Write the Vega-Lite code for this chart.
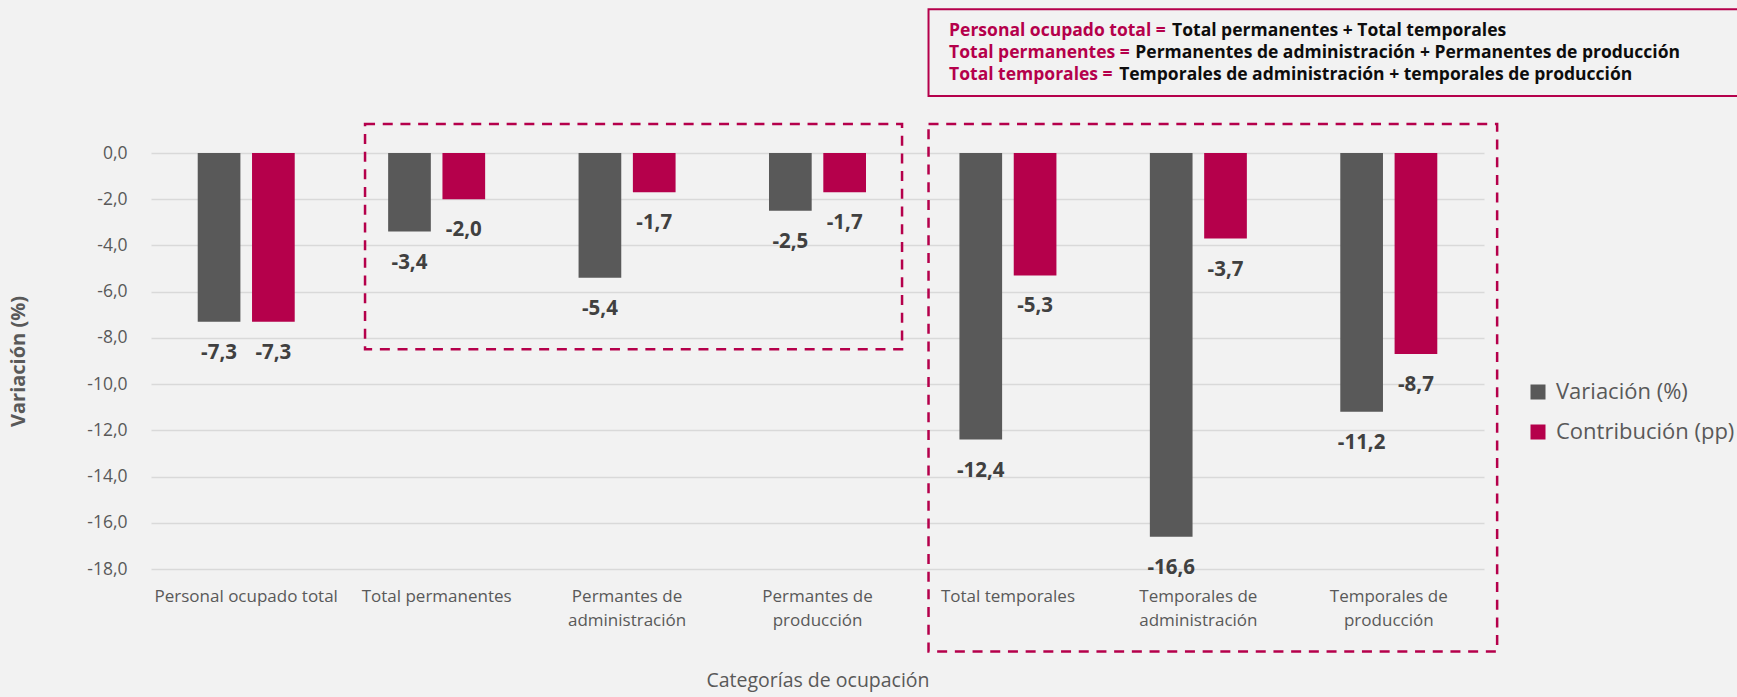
{
  "$schema": "https://vega.github.io/schema/vega-lite/v6.json",
  "width": 1333,
  "height": 416,
  "autosize": {"type": "none"},
  "padding": {"left": 151, "top": 153, "right": 253, "bottom": 128},
  "background": "#F2F2F2",
  "config": {
    "view": {"stroke": null},
    "font": "Open Sans",
    "locale": {"number": {"decimal": ",", "thousands": ".", "grouping": [3], "currency": ["", " €"], "minus": "-"}}
  },
  "datasets": {
    "barras": [
      {"categoria": "Personal ocupado total", "serie": "Variación (%)", "valor": -7.3},
      {"categoria": "Personal ocupado total", "serie": "Contribución (pp)", "valor": -7.3},
      {"categoria": "Total permanentes", "serie": "Variación (%)", "valor": -3.4},
      {"categoria": "Total permanentes", "serie": "Contribución (pp)", "valor": -2.0},
      {"categoria": "Permantes de administración", "serie": "Variación (%)", "valor": -5.4},
      {"categoria": "Permantes de administración", "serie": "Contribución (pp)", "valor": -1.7},
      {"categoria": "Permantes de producción", "serie": "Variación (%)", "valor": -2.5},
      {"categoria": "Permantes de producción", "serie": "Contribución (pp)", "valor": -1.7},
      {"categoria": "Total temporales", "serie": "Variación (%)", "valor": -12.4},
      {"categoria": "Total temporales", "serie": "Contribución (pp)", "valor": -5.3},
      {"categoria": "Temporales de administración", "serie": "Variación (%)", "valor": -16.6},
      {"categoria": "Temporales de administración", "serie": "Contribución (pp)", "valor": -3.7},
      {"categoria": "Temporales de producción", "serie": "Variación (%)", "valor": -11.2},
      {"categoria": "Temporales de producción", "serie": "Contribución (pp)", "valor": -8.7}
    ],
    "cajas": [
      {"grupo": "Permanentes", "desde": 1.124, "hasta": 3.944, "arriba": 1.254, "abajo": -8.49},
      {"grupo": "Temporales", "desde": 4.083, "hasta": 7.069, "arriba": 1.254, "abajo": -21.57}
    ],
    "marco": [
      {"desde": 4.083, "hasta": 8.345, "arriba": 6.215, "abajo": 2.465}
    ],
    "notas": [
      {"x_termino": 4.191, "x_resto": 5.362, "pos_y": 5.29, "termino": "Personal ocupado total =", "resto": "Total permanentes + Total temporales"},
      {"x_termino": 4.191, "x_resto": 5.169, "pos_y": 4.31, "termino": "Total permanentes =", "resto": "Permanentes de administración + Permanentes de producción"},
      {"x_termino": 4.191, "x_resto": 5.084, "pos_y": 3.37, "termino": "Total temporales =", "resto": "Temporales de administración + temporales de producción"}
    ]
  },
  "resolve": {"scale": {"x": "independent"}, "axis": {"x": "independent"}},
  "layer": [
    {
      "data": {"name": "barras"},
      "mark": {"type": "bar"},
      "encoding": {
        "x": {
          "field": "categoria", "type": "nominal", "sort": null,
          "scale": {"paddingInner": 0, "paddingOuter": 0},
          "axis": {
            "title": "Categorías de ocupación",
            "titleFontSize": 19.5, "titleFontWeight": "normal", "titleColor": "#595959", "titlePadding": 43,
            "labelFontSize": 17, "labelColor": "#595959", "labelAngle": 0, "labelPadding": 19,
            "labelBaseline": "top", "labelLineHeight": 24.5, "labelLimit": 300,
            "ticks": false, "domain": false, "grid": false,
            "labelExpr": "datum.label == 'Permantes de administración' ? ['Permantes de','administración'] : datum.label == 'Permantes de producción' ? ['Permantes de','producción'] : datum.label == 'Temporales de administración' ? ['Temporales de','administración'] : datum.label == 'Temporales de producción' ? ['Temporales de','producción'] : datum.label"
          }
        },
        "xOffset": {
          "field": "serie", "type": "nominal", "sort": ["Variación (%)", "Contribución (pp)"],
          "scale": {"paddingInner": 0.214, "paddingOuter": 0.86}
        },
        "y": {
          "field": "valor", "type": "quantitative", "title": "Variación (%)",
          "scale": {"domain": [-18, 0], "nice": false, "zero": false},
          "axis": {
            "values": [0, -2, -4, -6, -8, -10, -12, -14, -16, -18],
            "format": ".1f",
            "labelFontSize": 17.5, "labelColor": "#595959", "labelPadding": 24,
            "ticks": false, "domain": false,
            "gridColor": "#D9D9D9", "gridWidth": 1.5,
            "titleFontSize": 20, "titleFontWeight": "bold", "titleColor": "#595959", "titlePadding": 58
          }
        },
        "color": {
          "field": "serie", "type": "nominal",
          "scale": {"domain": ["Variación (%)", "Contribución (pp)"], "range": ["#595959", "#B5004B"]},
          "legend": {
            "title": null, "orient": "none", "legendX": 1376, "legendY": 228,
            "symbolType": "square", "symbolSize": 225, "symbolStrokeWidth": 0, "symbolOpacity": 1,
            "labelFontSize": 22, "labelColor": "#595959", "labelOffset": 7, "rowPadding": 18, "labelLimit": 300
          }
        }
      }
    },
    {
      "data": {"name": "barras"},
      "mark": {"type": "text", "baseline": "middle", "align": "center", "dy": 31, "fontSize": 20.5, "fontWeight": "bold", "color": "#404040"},
      "encoding": {
        "x": {"field": "categoria", "type": "nominal", "sort": null, "scale": {"paddingInner": 0, "paddingOuter": 0}, "axis": null},
        "xOffset": {"field": "serie", "type": "nominal", "sort": ["Variación (%)", "Contribución (pp)"], "scale": {"paddingInner": 0.214, "paddingOuter": 0.86}},
        "y": {"field": "valor", "type": "quantitative", "title": "Variación (%)"},
        "text": {"field": "valor", "type": "quantitative", "format": ".1f"}
      }
    },
    {
      "data": {"name": "cajas"},
      "mark": {"type": "rect", "fillOpacity": 0, "stroke": "#B5004B", "strokeWidth": 2.5, "strokeDash": [10, 7.7]},
      "encoding": {
        "x": {"field": "desde", "type": "quantitative", "scale": {"domain": [0, 7], "nice": false, "zero": false}, "axis": null},
        "x2": {"field": "hasta"},
        "y": {"field": "arriba", "type": "quantitative", "title": "Variación (%)"},
        "y2": {"field": "abajo"}
      }
    },
    {
      "data": {"name": "marco"},
      "mark": {"type": "rect", "fillOpacity": 0, "stroke": "#B5004B", "strokeWidth": 2},
      "encoding": {
        "x": {"field": "desde", "type": "quantitative", "scale": {"domain": [0, 7], "nice": false, "zero": false}, "axis": null},
        "x2": {"field": "hasta"},
        "y": {"field": "arriba", "type": "quantitative", "title": "Variación (%)"},
        "y2": {"field": "abajo"}
      }
    },
    {
      "data": {"name": "notas"},
      "mark": {"type": "text", "align": "left", "baseline": "middle", "fontSize": 17.5, "fontWeight": "bold", "color": "#0D0D0D"},
      "encoding": {
        "x": {"field": "x_resto", "type": "quantitative", "scale": {"domain": [0, 7], "nice": false, "zero": false}, "axis": null},
        "y": {"field": "pos_y", "type": "quantitative", "title": "Variación (%)"},
        "text": {"field": "resto", "type": "nominal"}
      }
    },
    {
      "data": {"name": "notas"},
      "mark": {"type": "text", "align": "left", "baseline": "middle", "fontSize": 17.5, "fontWeight": "bold", "color": "#B5004B"},
      "encoding": {
        "x": {"field": "x_termino", "type": "quantitative", "scale": {"domain": [0, 7], "nice": false, "zero": false}, "axis": null},
        "y": {"field": "pos_y", "type": "quantitative", "title": "Variación (%)"},
        "text": {"field": "termino", "type": "nominal"}
      }
    }
  ]
}
